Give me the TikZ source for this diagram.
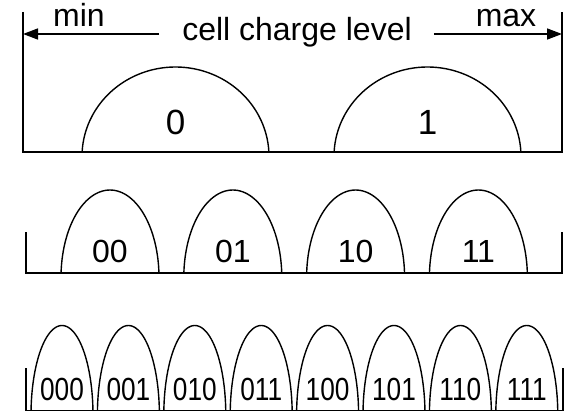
\documentclass[tikz,border=0pt]{standalone}
\usepackage{fontspec}
\setmainfont{Liberation Sans}
\usetikzlibrary{arrows.meta}
% one half-ellipse hump: centre x, base y, half width, height
\newcommand\humpat[4]{%
  \draw[hump] plot[domain=2.87:177.13, samples=61, smooth]
    ({#1+#3*cos(\x)}, {#2+0.05*#4/0.95-#4/0.95*sin(\x)});}
\begin{document}
\begin{tikzpicture}[x=1pt,y=-1pt,
  rule/.style={line width=1.6pt},
  hump/.style={line width=1.4pt},
  lbl/.style={inner sep=0pt, anchor=base, font=\fontsize{32}{36}\selectfont},
  big/.style={lbl, font=\fontsize{35}{40}\selectfont},
  arr/.style={line width=1.6pt, -{Triangle[length=15pt,width=11pt]}}]
\useasboundingbox (0,0) rectangle (568,412);

% top scale: min / max walls and charge axis
\coordinate (lwall) at (23,34);
\coordinate (rwall) at (562,34);
\draw[rule] (23,12) -- (23,152) -- (562,152) -- (562,12);
\node[lbl] (title) at (297,41) {cell charge level};
\node[lbl] (min) at (79,27) {min};
\node[lbl] (max) at (506,27) {max};
\draw[arr] (title.west |- lwall) ++(-23,0) coordinate (ta) (ta) -- (lwall);
\draw[arr] (title.east |- rwall) ++(22,0) coordinate (tb) (tb) -- (rwall);

% one bit per cell
\foreach \c/\t in {175.5/0, 427.5/1}{
  \humpat{\c}{152}{93.5}{85}
  \node[big] (b\t) at (\c,134) {\t};
}

% two bits per cell
\draw[rule] (26,232) -- (26,273) -- (562,273) -- (562,232);
\foreach \t [count=\i from 0] in {00,01,10,11}{
  \pgfmathsetmacro\c{110+122.8*\i}
  \humpat{\c}{273}{49}{83}
  \node[lbl] (b\t) at (\c,262) {\t};
}

% three bits per cell, narrow digits
\draw[rule] (26,368) -- (26,410.5) -- (563,410.5) -- (563,368);
\foreach \t [count=\i from 0] in {000,001,010,011,100,101,110,111}{
  \pgfmathsetmacro\c{62+66.4*\i}
  \humpat{\c}{410.5}{31}{85}
  \node[lbl] (b\t) at (\c,400) {\scalebox{0.82}[1]{\t}};
}
\end{tikzpicture}
\end{document}
